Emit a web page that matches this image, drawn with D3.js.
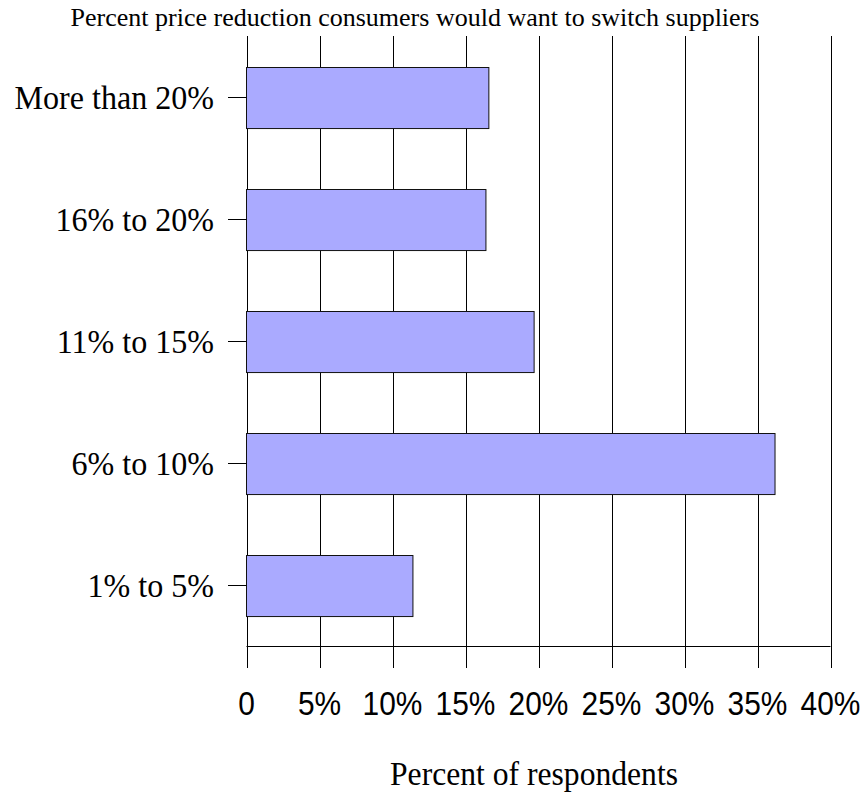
<!DOCTYPE html>
<html><head><meta charset="utf-8">
<script src="https://cdn.jsdelivr.net/npm/d3@7"></script>
<style>body{margin:0;background:#fff}</style>
</head><body>
<script>
const categories = ["More than 20%", "16% to 20%", "11% to 15%", "6% to 10%", "1% to 5%"];
const values = [16.6, 16.4, 19.7, 36.2, 11.4];
const tickValues = [0, 5, 10, 15, 20, 25, 30, 35, 40];
const tickLabels = ["0", "5%", "10%", "15%", "20%", "25%", "30%", "35%", "40%"];
const title = "Percent price reduction consumers would want to switch suppliers";
const xTitle = "Percent of respondents";

const W = 868, H = 802;
const svg = d3.select("body").append("svg").attr("width", W).attr("height", H);
const pLeft = 246.5, pRight = 830.5, pTop = 36, pBottom = 646.5, tickEnd = 668;
const x = d3.scaleLinear().domain([0, 40]).range([pLeft, pRight]);
const y = d3.scaleBand().domain(categories).range([pTop, pBottom]).paddingInner(0.5).paddingOuter(0.25);
const serif = "Liberation Serif, Times New Roman, serif";
const sans = "Liberation Sans, Arial, sans-serif";

// vertical grid lines (extend below as tick marks)
svg.append("g").selectAll("line").data(tickValues).join("line")
  .attr("x1", d => Math.round(x(d)) + 0.5).attr("x2", d => Math.round(x(d)) + 0.5)
  .attr("y1", pTop).attr("y2", tickEnd)
  .attr("stroke", "#000").attr("stroke-width", 1);

// horizontal axis line
svg.append("line").attr("x1", pLeft).attr("x2", pRight).attr("y1", pBottom).attr("y2", pBottom)
  .attr("stroke", "#000").attr("stroke-width", 1);

// bars
svg.append("g").selectAll("rect").data(categories).join("rect")
  .attr("x", x(0)).attr("y", d => Math.round(y(d)) + 0.5)
  .attr("width", (d, i) => x(values[i]) - x(0))
  .attr("height", y.bandwidth())
  .attr("fill", "#aaaaff").attr("stroke", "#111").attr("stroke-width", 1);

// y ticks and labels
const yg = svg.append("g");
yg.selectAll("line").data(categories).join("line")
  .attr("x1", 228).attr("x2", pLeft)
  .attr("y1", d => Math.round(y(d) + y.bandwidth() / 2) + 0.5)
  .attr("y2", d => Math.round(y(d) + y.bandwidth() / 2) + 0.5)
  .attr("stroke", "#000");
yg.selectAll("text").data(categories).join("text")
  .attr("transform", d => `translate(214,${y(d) + y.bandwidth() / 2 + 12}) scale(0.93,1)`)
  .attr("text-anchor", "end")
  .attr("font-family", serif).attr("font-size", 34.5)
  .text(d => d);

// x tick labels
svg.append("g").selectAll("text").data(tickValues).join("text")
  .attr("transform", d => `translate(${x(d)},715) scale(0.92,1)`)
  .attr("text-anchor", "middle")
  .attr("font-family", sans).attr("font-size", 32.5)
  .text((d, i) => tickLabels[i]);

// title
svg.append("text").attr("x", 415).attr("y", 26).attr("text-anchor", "middle")
  .attr("font-family", serif).attr("font-size", 26)
  .text(title);

// x axis title
svg.append("text")
  .attr("transform", "translate(534,785) scale(0.93,1)")
  .attr("text-anchor", "middle")
  .attr("font-family", serif).attr("font-size", 34)
  .text(xTitle);
</script>
</body></html>
